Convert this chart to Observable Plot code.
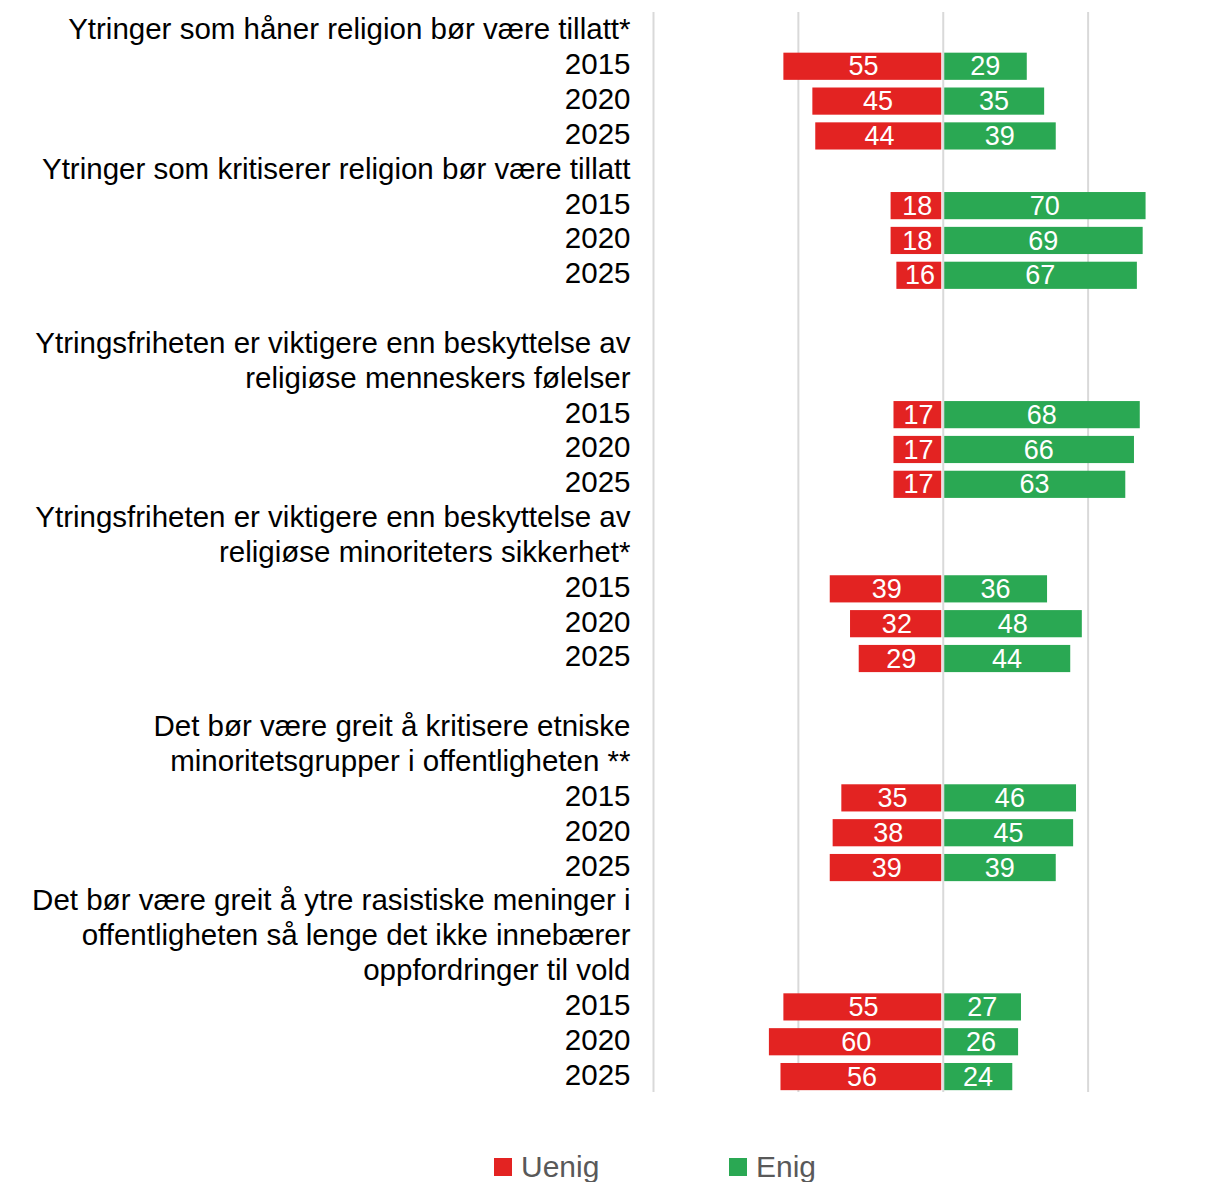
<!DOCTYPE html>
<html>
<head>
<meta charset="utf-8">
<script src="https://cdn.jsdelivr.net/npm/d3@7"></script>
<script src="https://cdn.jsdelivr.net/npm/@observablehq/plot@0.6"></script>
<style>
  html, body { margin: 0; padding: 0; background: #fff; }
  #wrap { position: relative; width: 1218px; }
  #legend { position: relative; width: 1218px; height: 82px; font-family: "Liberation Sans", Arial, sans-serif; font-size: 30px; color: #595959; }
  .item { position: absolute; top: 50px; display: flex; align-items: center; }
  .sw { width: 18px; height: 18px; margin-right: 9px; }
</style>
</head>
<body>
<div id="wrap"></div>
<div id="legend"></div>
<script>
// ---- data ----
const headings = [
  ["Ytringer som håner religion bør være tillatt*"],
  ["Ytringer som kritiserer religion bør være tillatt"],
  ["", "Ytringsfriheten er viktigere enn beskyttelse av", "religiøse menneskers følelser"],
  ["Ytringsfriheten er viktigere enn beskyttelse av", "religiøse minoriteters sikkerhet*"],
  ["", "Det bør være greit å kritisere etniske", "minoritetsgrupper i offentligheten **"],
  ["Det bør være greit å ytre rasistiske meninger i", "offentligheten så lenge det ikke innebærer", "oppfordringer til vold"]
];
const years = ["2015", "2020", "2025"];
const uenig = [
  [55, 45, 44],
  [18, 18, 16],
  [17, 17, 17],
  [39, 32, 29],
  [35, 38, 39],
  [55, 60, 56]
];
const enig = [
  [29, 35, 39],
  [70, 69, 67],
  [68, 66, 63],
  [36, 48, 44],
  [46, 45, 39],
  [27, 26, 24]
];
const seriesNames = ["Uenig", "Enig"];
const colors = ["#e32322", "#2aa853"];
const gridTicks = [-100, -50, 0, 50];

// ---- build rows ----
const rows = [];   // {id, label}
const bars = [];   // {id, series, x1, x2, value}
headings.forEach((lines, c) => {
  lines.forEach((line, j) => rows.push({id: `h${c}_${j}`, label: line}));
  years.forEach((yr, k) => {
    const id = `y${c}_${k}`;
    rows.push({id, label: yr});
    bars.push({id, series: seriesNames[0], x1: -uenig[c][k], x2: 0, value: uenig[c][k]});
    bars.push({id, series: seriesNames[1], x1: 0, x2: enig[c][k], value: enig[c][k]});
  });
});
const labelOf = new Map(rows.map(r => [r.id, r.label]));

const chart = Plot.plot({
  width: 1218,
  height: 1100,
  marginTop: 12,
  marginBottom: 8,
  marginLeft: 653,
  marginRight: 0,
  style: {fontFamily: "'Liberation Sans', Arial, sans-serif", color: "#000", background: "#fff"},
  x: {domain: [-100, 95], axis: null},
  y: {domain: rows.map(r => r.id), paddingInner: 0.22, paddingOuter: 0.11, round: false, axis: null},
  color: {domain: seriesNames, range: colors},
  marks: [
    Plot.ruleX(gridTicks, {stroke: "#d9d9d9", strokeWidth: 2, y1: null, y2: null}),
    Plot.barX(bars.filter(d => d.series === "Uenig"), {x1: "x1", x2: "x2", y: "id", fill: "series", insetRight: 1.5, dy: 2}),
    Plot.barX(bars.filter(d => d.series === "Enig"), {x1: "x1", x2: "x2", y: "id", fill: "series", insetLeft: 1.5, dy: 2}),
    Plot.text(bars, {x: d => (d.x1 + d.x2) / 2, y: "id", text: d => String(d.value), fill: "#fff", fontSize: 27, dy: 2}),
    Plot.axisY({label: null, tickSize: 0, tickPadding: 23, textAnchor: "end", fontSize: 29.5, tickFormat: id => labelOf.get(id), fill: "#000"})
  ]
});
document.getElementById("wrap").appendChild(chart);

// ---- legend ----
const legend = document.getElementById("legend");
const legendX = [494, 729];
seriesNames.forEach((name, i) => {
  const item = document.createElement("div");
  item.className = "item";
  item.style.left = legendX[i] + "px";
  const sw = document.createElement("span");
  sw.className = "sw";
  sw.style.background = colors[i];
  const t = document.createElement("span");
  t.textContent = name;
  item.appendChild(sw);
  item.appendChild(t);
  legend.appendChild(item);
});
</script>
</body>
</html>
